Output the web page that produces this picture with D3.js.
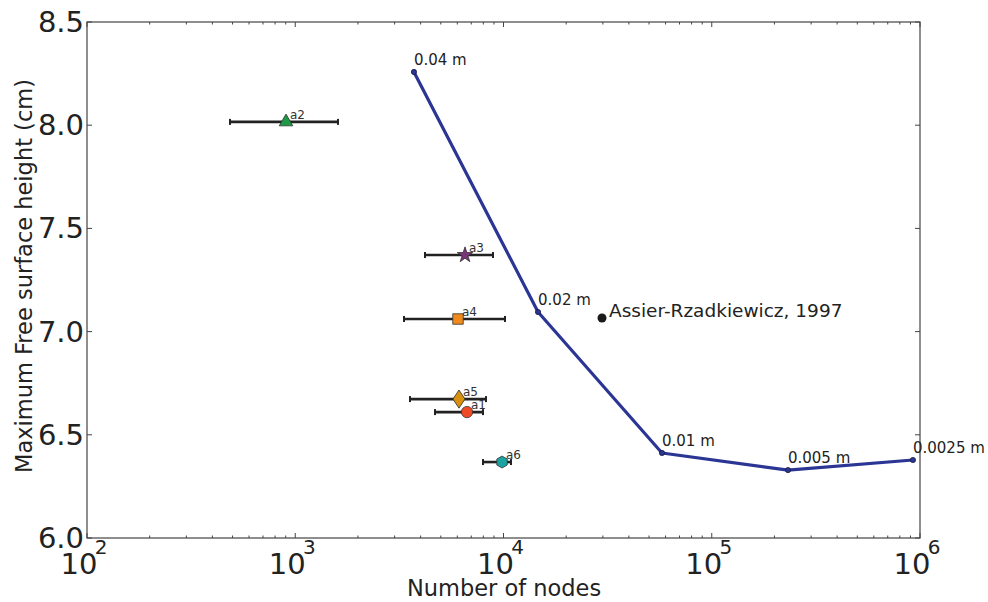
<!DOCTYPE html>
<html><head><meta charset="utf-8">
<script src="https://cdn.jsdelivr.net/npm/d3@7"></script>
<style>body{margin:0;background:#fff}svg{display:block}text{font-family:"DejaVu Sans",sans-serif}</style>
</head><body><svg id="c" width="988" height="602"></svg>
<script>
// Resolution study line
const resNodes = [3715, 14650, 57680, 232300, 925000];
const resHeight = [8.258, 7.095, 6.412, 6.329, 6.378];
const resLabels = ["0.04 m", "0.02 m", "0.01 m", "0.005 m", "0.0025 m"];
// Reference measurement
const refNodes = [29720];
const refHeight = [7.066];
const refLabel = ["Assier-Rzadkiewicz, 1997"];
// Other models
const modelNames = ["a1", "a2", "a3", "a4", "a5", "a6"];
const modelNodes = [6680, 903, 6534, 6047, 6113, 9838];
const modelNodesLo = [4690, 486, 4198, 3328, 3556, 7974];
const modelNodesHi = [7974, 1604, 8906, 10168, 8240, 10865];
const modelHeight = [6.610, 8.016, 7.371, 7.061, 6.673, 6.368];
const modelShapes = ["circle", "triangle", "star", "square", "diamond", "hexagon"];
const modelColors = ["#f04a24", "#1d9a46", "#7a3478", "#f08a1c", "#d8900e", "#1aa3a0"];
// Ticks
const yTicks = [6.0, 6.5, 7.0, 7.5, 8.0, 8.5];
const xTickExp = [2, 3, 4, 5, 6];

const svg = d3.select("#c");
const L = 87, R = 920, T = 22, B = 538;
const x = d3.scaleLog().domain([1e2, 1e6]).range([L, R]);
const y = d3.scaleLinear().domain([6.0, 8.5]).range([B, T]);
const axisCol = "#444";

// frame
svg.append("rect").attr("x", L).attr("y", T).attr("width", R - L).attr("height", B - T)
  .attr("fill", "none").attr("stroke", axisCol).attr("stroke-width", 1.2);

// x ticks
const minor = [];
for (let e = 2; e < 6; e++) for (let m = 2; m <= 9; m++) minor.push(m * Math.pow(10, e));
const g = svg.append("g").attr("stroke", axisCol);
minor.forEach(v => {
  g.append("line").attr("x1", x(v)).attr("x2", x(v)).attr("y1", B).attr("y2", B - 2.5);
  g.append("line").attr("x1", x(v)).attr("x2", x(v)).attr("y1", T).attr("y2", T + 2.5);
});
xTickExp.forEach(e => {
  const v = Math.pow(10, e);
  g.append("line").attr("x1", x(v)).attr("x2", x(v)).attr("y1", B).attr("y2", B - 5);
  g.append("line").attr("x1", x(v)).attr("x2", x(v)).attr("y1", T).attr("y2", T + 5);
  svg.append("text").attr("x", x(v) - 8).attr("y", 574).attr("text-anchor", "middle")
    .attr("font-size", 29).attr("fill", "#222").text("10");
  svg.append("text").attr("x", x(v) + 14).attr("y", 554).attr("text-anchor", "middle")
    .attr("font-size", 20).attr("fill", "#222").text(e);
});
yTicks.forEach(v => {
  g.append("line").attr("x1", L).attr("x2", L + 5).attr("y1", y(v)).attr("y2", y(v));
  g.append("line").attr("x1", R).attr("x2", R - 5).attr("y1", y(v)).attr("y2", y(v));
  svg.append("text").attr("x", L - 3).attr("y", y(v) + 10).attr("text-anchor", "end")
    .attr("font-size", 29).attr("fill", "#222").text(v.toFixed(1));
});

// axis labels
svg.append("text").attr("x", 504).attr("y", 596).attr("text-anchor", "middle")
  .attr("font-size", 22.5).attr("fill", "#222").text("Number of nodes");
svg.append("text").attr("transform", `translate(32,276) rotate(-90)`)
  .attr("text-anchor", "middle").attr("font-size", 22.5).attr("fill", "#222")
  .text("Maximum Free surface height (cm)");

// resolution line
const lineData = resNodes.map((n, i) => [n, resHeight[i]]);
svg.append("path").datum(lineData)
  .attr("d", d3.line().x(d => x(d[0])).y(d => y(d[1])))
  .attr("fill", "none").attr("stroke", "#2b3594").attr("stroke-width", 3.2)
  .attr("stroke-linejoin", "round");
lineData.forEach((d, i) => {
  svg.append("circle").attr("cx", x(d[0])).attr("cy", y(d[1])).attr("r", 2.6)
    .attr("fill", "#2b3594").attr("stroke", "#1a1a40").attr("stroke-width", 0.8);
  svg.append("text").attr("x", x(d[0])).attr("y", y(d[1]) - 7)
    .attr("font-size", 15).attr("fill", "#222").text(resLabels[i]);
});

// reference point
refNodes.forEach((n, i) => {
  svg.append("circle").attr("cx", x(n)).attr("cy", y(refHeight[i])).attr("r", 4.5).attr("fill", "#1a1a1a");
  svg.append("text").attr("x", x(n) + 7).attr("y", y(refHeight[i]) - 1)
    .attr("font-size", 18.5).attr("fill", "#222").text(refLabel[i]);
});

// model points with error bars
const symMap = {circle: d3.symbolCircle, triangle: d3.symbolTriangle, star: d3.symbolStar,
  square: d3.symbolSquare, diamond: d3.symbolDiamond};
function hexPath(r) {
  const pts = d3.range(6).map(k => { const a = Math.PI / 6 + k * Math.PI / 3; return [r * Math.cos(a), r * Math.sin(a)]; });
  return "M" + pts.map(p => p.join(",")).join("L") + "Z";
}
modelNames.forEach((nm, i) => {
  const cy = y(modelHeight[i]);
  const x0 = x(modelNodesLo[i]), x1 = x(modelNodesHi[i]);
  svg.append("line").attr("x1", x0).attr("x2", x1).attr("y1", cy).attr("y2", cy)
    .attr("stroke", "#222").attr("stroke-width", 2.6);
  [x0, x1].forEach(xx => svg.append("line").attr("x1", xx).attr("x2", xx)
    .attr("y1", cy - 3).attr("y2", cy + 3).attr("stroke", "#222").attr("stroke-width", 2));
  const cx = x(modelNodes[i]);
  let d;
  if (modelShapes[i] === "hexagon") d = hexPath(6);
  else {
    const sizes = {circle: 100, triangle: 80, star: 75, square: 110, diamond: 95};
    d = d3.symbol().type(symMap[modelShapes[i]]).size(sizes[modelShapes[i]])();
  }
  const rot = modelShapes[i] === "diamond" ? " scale(1.15,1)" : "";
  svg.append("path").attr("d", d).attr("transform", `translate(${cx},${cy})${rot}`)
    .attr("fill", modelColors[i]).attr("stroke", "#333").attr("stroke-width", 0.8);
  svg.append("text").attr("x", cx + 4).attr("y", cy - 3).attr("font-size", 12)
    .attr("fill", "#333").text(nm);
});
</script></body></html>
